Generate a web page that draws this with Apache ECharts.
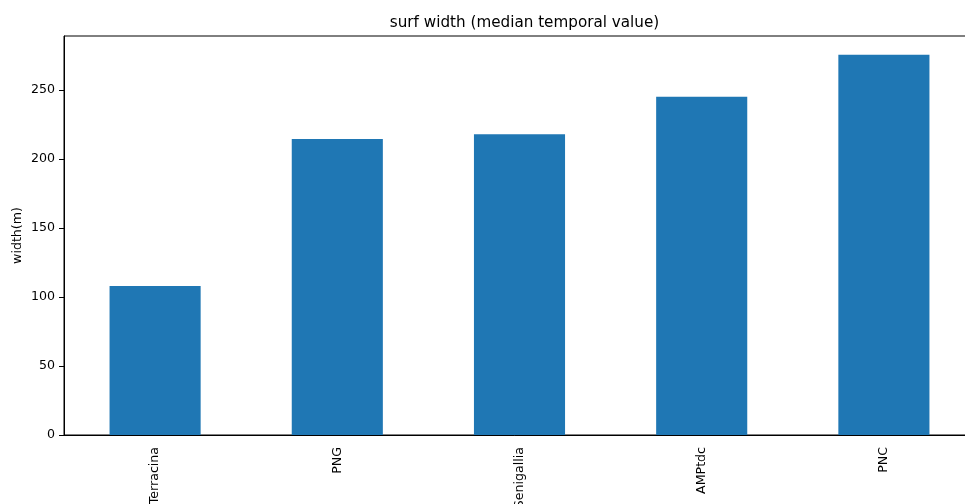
<!DOCTYPE html>
<html>
<head>
<meta charset="utf-8">
<script src="https://cdn.jsdelivr.net/npm/echarts@6/dist/echarts.min.js"></script>
<style>
  html, body { margin: 0; padding: 0; background: #fff; }
  #chart { width: 965px; height: 504px; }
</style>
</head>
<body>
<div id="chart"></div>
<script>
// Median surf width per site (metres)
const sites = ['Terracina', 'PNG', 'Senigallia', 'AMPtdc', 'PNC'];
const widths = [108, 214.5, 218, 245, 275.5];
const yTicks = [0, 50, 100, 150, 200, 250];

const font = 'DejaVu Sans';
const chart = echarts.init(document.getElementById('chart'), null, { renderer: 'canvas' });

chart.setOption({
  animation: false,
  backgroundColor: '#ffffff',
  title: {
    text: 'surf width (median temporal value)',
    left: 519.5,
    textAlign: 'center',
    top: 11,
    textStyle: { fontFamily: font, fontSize: 15.2, fontWeight: 'normal', color: '#000' }
  },
  // plot box runs past the right edge of the canvas
  grid: {
    left: 64, width: 911, top: 36, height: 399,
    outerBoundsMode: 'none',
    containLabel: false,
    show: true, borderColor: '#000', borderWidth: 1, backgroundColor: 'transparent'
  },
  xAxis: {
    type: 'category',
    data: sites,
    axisLine: { lineStyle: { color: '#000', width: 1 } },
    axisTick: { alignWithLabel: true, length: 5, lineStyle: { color: '#000' } },
    axisLabel: { rotate: 90, margin: 12, fontFamily: font, fontSize: 12.6, color: '#000' },
    splitLine: { show: false }
  },
  yAxis: {
    type: 'value',
    min: 0,
    max: 289.1,
    interval: 50,
    name: 'width(m)',
    nameLocation: 'middle',
    nameGap: 40,
    nameMoveOverlap: false,
    nameTextStyle: { fontFamily: font, fontSize: 12.6, color: '#000' },
    axisLine: { show: true, lineStyle: { color: '#000', width: 1 } },
    axisTick: { show: true, length: 5, lineStyle: { color: '#000' }, customValues: yTicks },
    axisLabel: { fontFamily: font, fontSize: 12.6, color: '#000', margin: 9, customValues: yTicks },
    splitLine: { show: false }
  },
  series: [{
    type: 'bar',
    data: widths,
    barWidth: '50%',
    itemStyle: { color: '#1f77b4' }
  }]
});
</script>
</body>
</html>
